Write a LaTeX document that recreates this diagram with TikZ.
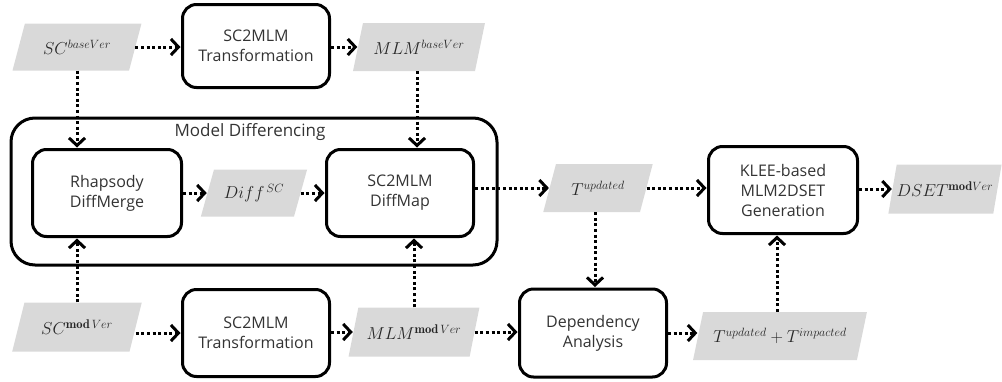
\documentclass[tikz,border=0pt]{standalone}
\usepackage{fontspec}
\setsansfont{Open Sans}
\usetikzlibrary{shapes.geometric,arrows.meta,calc}
\definecolor{txt}{HTML}{333333}
\definecolor{mtxt}{HTML}{262626}
\definecolor{para}{HTML}{D9D9D9}
\tikzset{
  procbox/.style={draw=black, line width=3pt, rounded corners=14pt, align=center,
    text=txt, font=\sffamily\fontsize{16}{20}\selectfont, inner sep=0pt},
  databox/.style={shape=trapezium, trapezium left angle=61, trapezium right angle=119,
    trapezium stretches=true, fill=para, draw=none, text=mtxt, inner sep=0pt,
    font=\fontsize{18}{20}\selectfont},
  flow/.style={line width=3pt, dash pattern=on 3pt off 2.6pt,
    -{Straight Barb[length=7.5pt,width=16pt,line width=3pt]}, shorten >=0.5pt}
}
\begin{document}
\begin{tikzpicture}[x=1pt,y=-1pt]
\useasboundingbox (0,0) rectangle (1002,381);
% outer group
\draw[line width=3pt, rounded corners=24pt] (11,118) rectangle (497,265);
\node[font=\sffamily\fontsize{17}{20}\selectfont, text=txt] (mdlabel) at (250,132) {Model Differencing};
% data nodes
\node[databox, minimum width=130, minimum height=47] (scb) at (77,47) {$SC^{baseVer}$};
\node[databox, minimum width=132, minimum height=48] (mlmb) at (419,47) {$MLM^{baseVer}$};
\node[databox, minimum width=107, minimum height=47] (diff) at (254,193) {$Diff^{\,SC}$};
\node[databox, minimum width=110, minimum height=48] (tu) at (598,188) {$T^{updated}$};
\node[databox, minimum width=105, minimum height=49] (dset) at (945,189) {$DSET^{\mathbf{mod}Ver}$};
\node[databox, minimum width=130, minimum height=49] (scm) at (77,327) {$SC^{\mathbf{mod}\,Ver}$};
\node[databox, minimum width=131, minimum height=49] (mlmm) at (414,332) {$MLM^{\mathbf{mod}\,Ver}$};
\node[databox, minimum width=174, minimum height=48] (tui) at (780,336) {$T^{updated}+T^{impacted}$};
% process nodes
\node[procbox, minimum width=147, minimum height=83] (t1) at (256,46) {SC2MLM\\Transformation};
\node[procbox, minimum width=149, minimum height=87] (rh) at (107,193) {Rhapsody\\DiffMerge};
\node[procbox, minimum width=147, minimum height=87] (dm) at (400,193) {SC2MLM\\DiffMap};
\node[procbox, minimum width=149, minimum height=87] (klee) at (783,190) {KLEE-based\\MLM2DSET\\Generation};
\node[procbox, minimum width=147, minimum height=87] (t2) at (256,333) {SC2MLM\\Transformation};
\node[procbox, minimum width=147, minimum height=88] (dep) at (593,333) {Dependency\\Analysis};
% connectors
\draw[flow] (scb.east) -- (scb.east -| t1.west);
\draw[flow] (t1.east |- mlmb.west) -- (mlmb.west);
\draw[flow] (scb.south) -- (scb.south |- rh.north);
\draw[flow] ($(mlmb.south)+(-2,0)$) -- ($(mlmb.south |- dm.north)+(-2,0)$);
\draw[flow] (scm.north) -- (scm.north |- rh.south);
\draw[flow] (mlmm.north) -- (mlmm.north |- dm.south);
\draw[flow] (scm.east |- t2.west) -- (t2.west);
\draw[flow] (t2.east |- mlmm.west) -- (mlmm.west);
\draw[flow] (rh.east |- diff.west) -- (diff.west);
\draw[flow] (diff.east) -- (diff.east -| dm.west);
\draw[flow] (dm.east |- tu.west) -- (tu.west);
\draw[flow] (tu.east) -- (tu.east -| klee.west);
\draw[flow] (klee.east |- dset.west) -- (dset.west);
\draw[flow] ($(tu.south)+(-3,0)$) -- ($(tu.south |- dep.north)+(-3,0)$);
\draw[flow] (mlmm.east) -- (mlmm.east -| dep.west);
\draw[flow] (dep.east) -- (dep.east -| tui.west);
\draw[flow] ($(tui.north)+(-3,0)$) -- ($(tui.north |- klee.south)+(-3,0)$);
\end{tikzpicture}
\end{document}
